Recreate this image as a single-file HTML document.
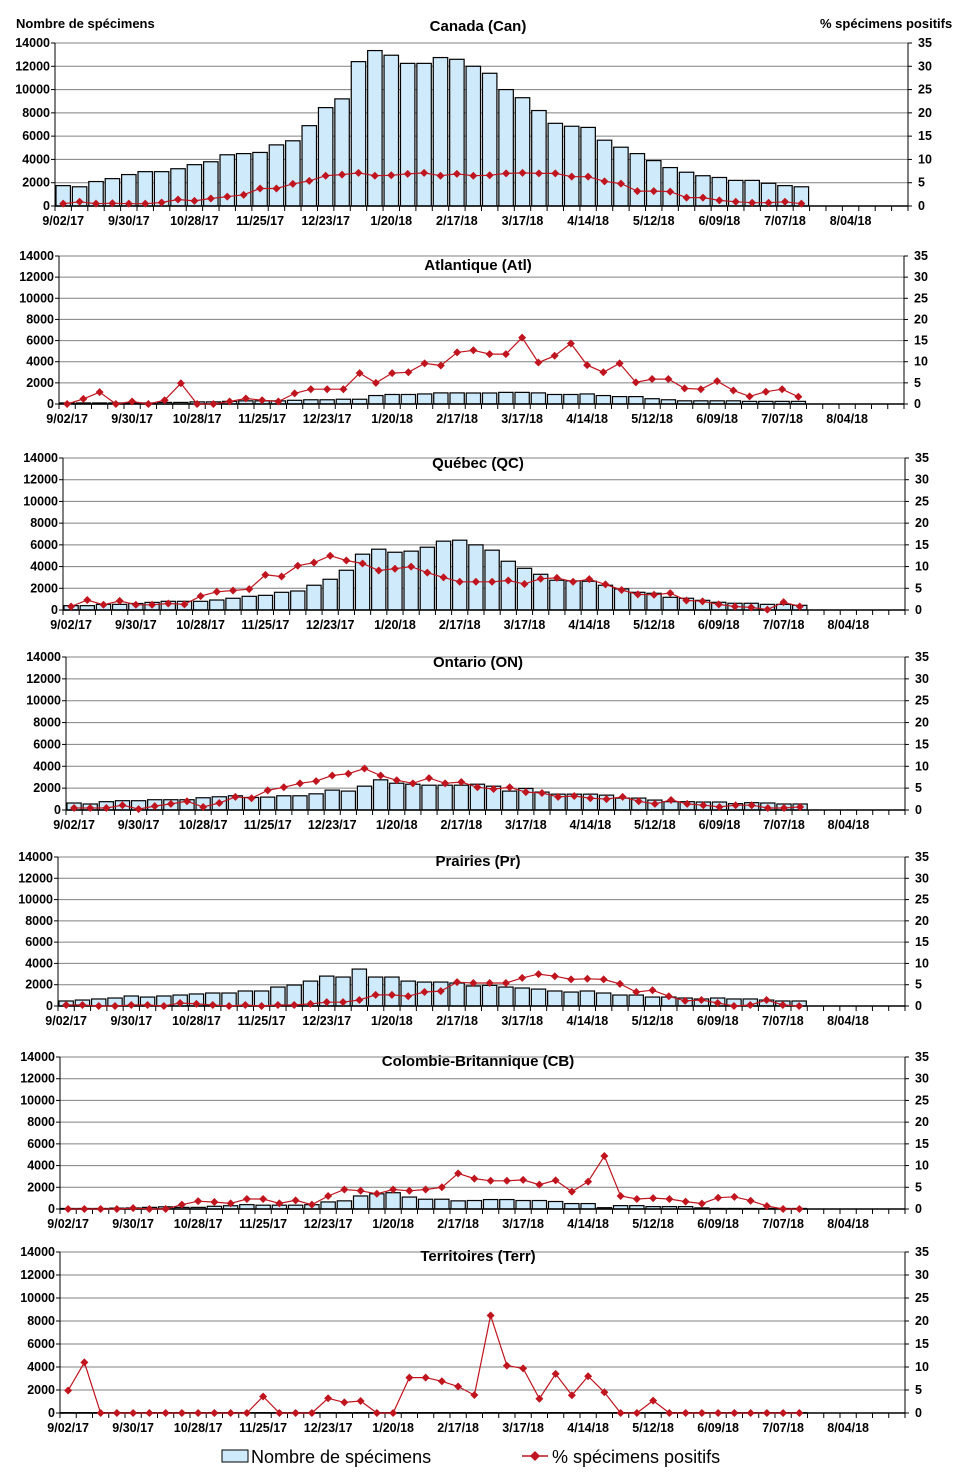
<!DOCTYPE html>
<html><head><meta charset="utf-8">
<style>
body{margin:0;background:#fff;}
svg{display:block;font-family:"Liberation Sans",Arial,sans-serif;}
.t{font-size:12.5px;font-weight:bold;fill:#000;}
.ttl{font-size:15px;font-weight:bold;fill:#000;}
</style></head>
<body>
<svg id="chart" width="958" height="1477" viewBox="0 0 958 1477" xmlns="http://www.w3.org/2000/svg">
<text x="16" y="28" class="t" style="font-size:13px">Nombre de spécimens</text>
<text x="820" y="28" class="t" style="font-size:13px">% spécimens positifs</text>
<g>
<rect x="222" y="1450" width="26" height="12" fill="#cfeafb" stroke="#000"/>
<text x="251" y="1463" style="font-size:18px">Nombre de spécimens</text>
<line x1="522" y1="1456" x2="548" y2="1456" stroke="#c0141e" stroke-width="1.5"/>
<path d="M535 1451 L540 1456 L535 1461 L530 1456Z" fill="#c0141e"/>
<text x="552" y="1463" style="font-size:18px">% spécimens positifs</text>
</g>
</svg>
<script>
const weekLabels = ["9/02/17","9/30/17","10/28/17","11/25/17","12/23/17","1/20/18","2/17/18","3/17/18","4/14/18","5/12/18","6/09/18","7/07/18","8/04/18"];
const leftTicks = [0,2000,4000,6000,8000,10000,12000,14000];
const rightTicks = [0,5,10,15,20,25,30,35];
const panelTitles = ["Canada (Can)","Atlantique (Atl)","Québec (QC)","Ontario (ON)","Prairies (Pr)","Colombie-Britannique (CB)","Territoires (Terr)"];

const canBars = [1750,1650,2100,2350,2700,2950,2950,3200,3550,3800,4400,4500,4600,5250,5600,6900,8450,9200,12400,13350,12950,12250,12250,12750,12600,12000,11400,10000,9300,8200,7100,6850,6750,5650,5050,4500,3900,3300,2900,2600,2450,2200,2200,1950,1750,1650];
const canPct = [0.5,0.9,0.5,0.6,0.5,0.5,0.75,1.4,1.1,1.6,2.0,2.4,3.75,3.75,4.75,5.4,6.5,6.75,7.1,6.5,6.6,6.9,7.1,6.5,6.9,6.5,6.6,7.0,7.1,7.0,7.0,6.3,6.3,5.3,4.8,3.2,3.2,3.1,1.8,1.8,1.2,0.9,0.7,0.7,0.9,0.5];
const atlBars = [100,100,100,100,100,100,150,150,200,200,250,300,300,300,350,400,400,450,450,800,900,900,950,1050,1050,1040,1040,1100,1100,1050,900,900,950,800,700,700,500,400,300,300,300,300,250,250,250,250];
const atlPct = [0,1.2,2.8,0,0.6,0,0.9,4.9,0,0,0.6,1.3,0.9,0.6,2.5,3.5,3.5,3.5,7.3,5.0,7.3,7.5,9.6,9.1,12.2,12.7,11.8,11.8,15.7,9.8,11.4,14.3,9.2,7.5,9.6,5.1,5.9,5.9,3.7,3.5,5.4,3.2,1.8,2.9,3.5,1.7];
const qcBars = [400,400,520,520,600,700,800,800,800,920,1080,1260,1350,1630,1750,2280,2830,3660,5140,5600,5320,5420,5780,6340,6430,6000,5510,4490,3840,3290,2740,2680,2650,2280,1940,1630,1540,1170,1080,890,710,620,620,520,520,430];
const qcPct = [0.8,2.3,1.2,2.1,1.2,1.2,1.5,1.3,3.2,4.2,4.5,4.8,8.1,7.7,10.2,10.9,12.5,11.4,10.7,9.1,9.5,10.0,8.6,7.5,6.5,6.5,6.5,6.8,6.0,7.2,7.4,6.5,7.1,5.9,4.6,3.6,3.5,3.9,2.2,2.0,1.3,0.8,0.6,0.1,1.8,0.8];
const onBars = [640,550,760,850,850,940,940,940,1120,1210,1300,1150,1180,1300,1300,1480,1820,1730,2180,2760,2450,2360,2270,2270,2270,2360,2180,1730,1970,1640,1450,1450,1450,1360,1090,1090,910,760,760,730,730,580,670,640,550,550];
const onPct = [0.45,0.45,0.45,1.1,0.2,0.9,1.4,2.0,0.7,1.6,3.0,2.7,4.5,5.2,6.1,6.6,7.9,8.3,9.5,7.9,6.8,6.1,7.3,6.1,6.4,5.2,4.8,5.2,4.1,3.9,3.0,3.2,2.7,2.5,3.0,2.0,1.4,2.3,1.4,1.1,0.7,1.1,1.1,0.45,0.45,0.7];
const prBars = [470,560,660,750,940,840,940,1030,1130,1220,1220,1410,1410,1780,1970,2340,2810,2720,3470,2720,2720,2340,2250,2250,2160,1880,1940,1780,1690,1590,1410,1310,1410,1220,1030,1030,840,840,750,660,750,660,660,560,470,470];
const prPct = [0.23,0.23,0,0,0.23,0.23,0,0.7,0.5,0.23,0,0.23,0,0.23,0.23,0.5,0.9,0.9,1.4,2.6,2.6,2.3,3.3,3.5,5.6,5.4,5.4,5.4,6.6,7.5,7.0,6.25,6.4,6.25,5.2,3.3,3.7,2.3,1.2,1.4,0.7,0,0.23,1.4,0.23,0];
const cbBars = [50,50,50,80,100,150,200,150,150,250,300,400,350,350,350,400,650,750,1200,1400,1500,1100,900,900,750,780,870,870,780,780,690,500,500,120,310,310,220,220,220,100,50,50,50,50,50,50];
const cbPct = [0,0,0,0,0.2,0,0,1.0,1.8,1.6,1.3,2.3,2.3,1.3,2.0,1.0,3.0,4.5,4.2,3.5,4.5,4.2,4.5,5.0,8.2,7.0,6.5,6.5,6.7,5.6,6.6,4.0,6.3,12.2,3.0,2.3,2.5,2.3,1.7,1.25,2.6,2.8,1.9,0.7,0,0];
const terrBars = [30,30,30,30,30,30,30,30,30,30,30,30,30,30,30,30,30,30,30,30,30,30,30,30,30,30,30,30,30,30,30,30,30,30,30,30,30,30,30,30,30,30,30,30,30,30];
const terrPct = [4.9,11.0,0,0,0,0,0,0,0,0,0,0,3.6,0,0,0,3.2,2.3,2.6,0,0,7.7,7.7,6.9,5.75,3.9,21.2,10.3,9.7,3.1,8.5,3.85,8.0,4.5,0,0,2.7,0,0,0,0,0,0,0,0,0];

const barSeries = [canBars,atlBars,qcBars,onBars,prBars,cbBars,terrBars];
const pctSeries = [canPct,atlPct,qcPct,onPct,prPct,cbPct,terrPct];
const panelIds = ["canada","atlantique","quebec","ontario","prairies","colombie-britannique","territoires"];

const NS = "http://www.w3.org/2000/svg";
const svg = document.getElementById("chart");
const layouts = [
 {l:55,r:908,t:43,b:206,ty:31},
 {l:59,r:904,t:256,b:404,ty:270},
 {l:63,r:905,t:458,b:610,ty:468},
 {l:66,r:905,t:657,b:810,ty:667},
 {l:58,r:905,t:857,b:1006,ty:866},
 {l:60,r:905,t:1057,b:1209,ty:1066},
 {l:60,r:905,t:1252,b:1413,ty:1261}
];
const NCAT = 52;
function mk(tag, attrs, parent){
  const e = document.createElementNS(NS, tag);
  for (const k in attrs) e.setAttribute(k, attrs[k]);
  parent.appendChild(e);
  return e;
}
layouts.forEach((L, p) => {
  const g = mk("g", {}, svg);
  
  
  const w = (L.r - L.l) / NCAT;
  const yL = v => L.b - v / 14000 * (L.b - L.t);
  const yR = v => L.b - v / 35 * (L.b - L.t);
  const xC = i => L.l + (i + 0.5) * w;
  leftTicks.forEach((v, k) => {
    const y = yL(v);
    if (v > 0) {
      const gl = mk("line", {x1:L.l, x2:L.r, y1:y, y2:y, stroke:"#808080", "stroke-width":1}, g);
      
      
    }
    const tl = mk("text", {x:L.l - 5, y:y + 4, "text-anchor":"end", class:"t"}, g);
    tl.textContent = v;
    
    
    mk("line", {x1:L.l - 4, x2:L.l, y1:y, y2:y, stroke:"#000"}, g);
  });
  rightTicks.forEach(v => {
    const y = yR(v);
    const tr = mk("text", {x:L.r + 10, y:y + 4, class:"t"}, g);
    tr.textContent = v;
    
    
    mk("line", {x1:L.r, x2:L.r + 4, y1:y, y2:y, stroke:"#000"}, g);
  });
  barSeries[p].forEach((v, i) => {
    const y = yL(v);
    const b = mk("rect", {x:L.l + i * w + w * 0.06, y:y, width:w * 0.88, height:Math.max(0, L.b - y), fill:"#cfeafb", stroke:"#000", "stroke-width":1.2}, g);
    
    
  });
  mk("line", {x1:L.l, x2:L.l, y1:L.t, y2:L.b, stroke:"#000"}, g);
  mk("line", {x1:L.r, x2:L.r, y1:L.t, y2:L.b, stroke:"#000"}, g);
  mk("line", {x1:L.l, x2:L.r, y1:L.b, y2:L.b, stroke:"#000", "stroke-width":1.5}, g);
  for (let i = 0; i <= NCAT; i++) {
    const x = L.l + i * w;
    mk("line", {x1:x, x2:x, y1:L.b, y2:L.b + 5, stroke:"#000"}, g);
  }
  weekLabels.forEach((s, k) => {
    const xl = mk("text", {x:xC(k * 4), y:L.b + 19, "text-anchor":"middle", class:"t"}, g);
    xl.textContent = s;
    
    
  });
  const pts = pctSeries[p].map((v, i) => xC(i).toFixed(1) + "," + yR(v).toFixed(1)).join(" ");
  const pl = mk("polyline", {points:pts, fill:"none", stroke:"#c0141e", "stroke-width":1.2}, g);
  
  
  pctSeries[p].forEach((v, i) => {
    const x = xC(i), y = yR(v);
    const m = mk("path", {d:`M${x} ${y-4} L${x+4} ${y} L${x} ${y+4} L${x-4} ${y}Z`, fill:"#c0141e"}, g);
    
    
  });
  const tt = mk("text", {x:478, y:L.ty, "text-anchor":"middle", class:"ttl"}, g);
  tt.textContent = panelTitles[p];
  
  
});
</script>
</body></html>
